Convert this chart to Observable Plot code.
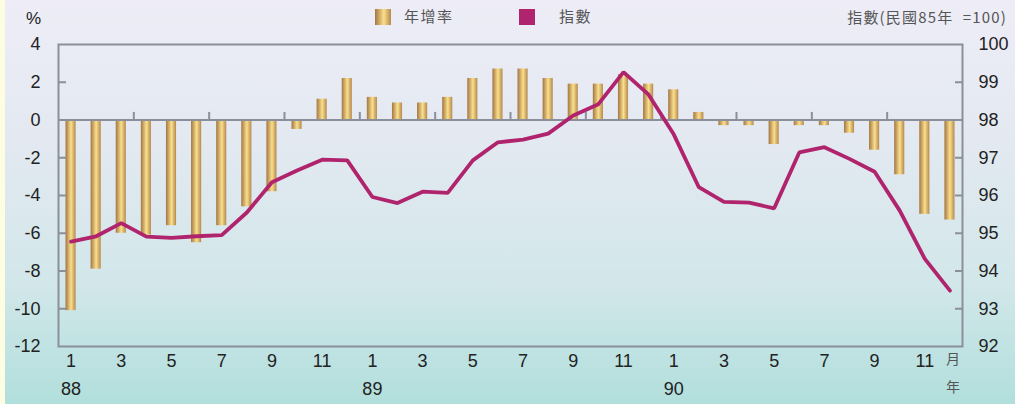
<!DOCTYPE html>
<html>
<head>
<meta charset="utf-8">
<script src="https://cdn.jsdelivr.net/npm/d3@7"></script>
<script src="https://cdn.jsdelivr.net/npm/@observablehq/plot@0.6"></script>
<style>
  html, body { margin: 0; padding: 0; }
  body { width: 1015px; height: 404px; overflow: hidden; }
  #wrap {
    position: relative; width: 1015px; height: 404px;
    background: linear-gradient(to bottom, #eeedf7 0%, #e3e9f1 35%, #d2e7ea 70%, #b1dfdc 100%);
    font-family: "Liberation Sans", Arial, sans-serif;
  }
  #strip { position: absolute; left: 0; top: 0; width: 5px; height: 404px; background: #fdfde2; }
  #chart { position: absolute; left: 0; top: 0; }
  .lbl { position: absolute; white-space: pre; line-height: 1; }
  .cjk { font-family: "Noto Sans CJK TC", "Noto Sans CJK SC", sans-serif; color: #555; font-size: 15px; letter-spacing: 1.5px; }
  .sw { position: absolute; width: 16px; height: 16px; }
</style>
</head>
<body>
<div id="wrap">
  <div id="strip"></div>
  <div id="chart"></div>
  <div class="lbl" style="left:26px; top:10px; font-size:17px; color:#222;">%</div>
  <div class="sw" style="left:375px; top:9px; background: linear-gradient(to right, #a47543, #f9e08b 55%, #b6874f);"></div>
  <div class="lbl cjk" id="leg1" style="left:404px; top:8px;"></div>
  <div class="sw" style="left:519px; top:9px; background:#b0246e;"></div>
  <div class="lbl cjk" id="leg2" style="left:559px; top:8px;"></div>
  <div class="lbl cjk" id="rtitle" style="right:8px; top:9px; letter-spacing:1.2px;"></div>
</div>
<script>
// ---- data ----
const years = ["88", "89", "90"];
const monthTicks = [1, 3, 5, 7, 9, 11];
const seriesNames = ["年增率", "指數"];
const rightTitle = "指數(民國85年  =100)";
const unitMonth = "月";
const unitYear = "年";
// 年增率 (%), 88/1 .. 90/12
const rate = [
  -10.1, -7.9, -6.0, -6.1, -5.6, -6.5, -5.6, -4.6, -3.8, -0.5, 1.1, 2.2,
  1.2, 0.9, 0.9, 1.2, 2.2, 2.7, 2.7, 2.2, 1.9, 1.9, 2.4, 1.9,
  1.6, 0.4, -0.3, -0.3, -1.3, -0.3, -0.3, -0.7, -1.6, -2.9, -5.0, -5.3
];
// 指數 (民國85年=100)
const index = [
  94.78, 94.92, 95.27, 94.91, 94.88, 94.92, 94.95, 95.55, 96.35, 96.66, 96.95, 96.93,
  95.96, 95.80, 96.10, 96.07, 96.93, 97.41, 97.48, 97.64, 98.12, 98.42, 99.27, 98.67,
  97.62, 96.22, 95.83, 95.81, 95.66, 97.14, 97.28, 96.97, 96.63, 95.60, 94.32, 93.48
];
const leftTicks = [4, 2, 0, -2, -4, -6, -8, -10, -12];
const rightTicks = [100, 99, 98, 97, 96, 95, 94, 93, 92];

// ---- derived ----
const rows = rate.map((r, k) => ({i: k + 1, rate: r, index: index[k]}));
const toLeft = v => (v - 92) * 2 - 12;      // right scale 92..100 -> left -12..4
const fromLeft = y => (y + 12) / 2 + 92;
const n = rows.length;
const monthTickIdx = d3.range(n).map(k => k + 1).filter(i => monthTicks.includes((i - 1) % 12 + 1));
const yearTickIdx = years.map((y, k) => k * 12 + 1);
const quarterBounds = d3.range(3, n, 3).map(i => i + 0.5);

document.getElementById("leg1").textContent = seriesNames[0];
document.getElementById("leg2").textContent = seriesNames[1];
document.getElementById("rtitle").textContent = rightTitle;

const gray = "#8b8f9b";
const cjkFont = "'Noto Sans CJK TC', sans-serif";
const chart = Plot.plot({
  width: 1015, height: 404,
  marginLeft: 58, marginRight: 53, marginTop: 44, marginBottom: 58,
  style: {background: "transparent", fontFamily: "'Liberation Sans', Arial, sans-serif", fontSize: "18px", color: "#222", overflow: "visible"},
  x: {domain: [0.5, n + 0.5]},
  y: {domain: [-12, 4]},
  marks: [
    Plot.rectY(rows, {x1: d => d.i - 0.5, x2: d => d.i + 0.5, y1: 0, y2: "rate", insetLeft: 7.5, insetRight: 7.5, fill: "url(#gold)"}),
    Plot.ruleX(quarterBounds, {x: d => d, y1: 0, y2: 0.4, stroke: gray, strokeWidth: 2}),
    Plot.ruleY([0], {stroke: gray, strokeWidth: 2}),
    Plot.frame({stroke: gray, strokeWidth: 2}),
    Plot.line(rows, {x: "i", y: d => toLeft(d.index), stroke: "#b0246e", strokeWidth: 3.8, strokeLinejoin: "miter"}),
    // left axis
    Plot.axisY({label: null, ticks: leftTicks.slice(1, -1).filter(v => v !== 0), tickSize: -8, tickFormat: () => "", stroke: gray, strokeWidth: 2}),
    Plot.axisY({label: null, ticks: leftTicks, tickSize: 0, tickPadding: 18, tickFormat: d => String(d), fill: "#222"}),
    // right axis
    Plot.axisY({label: null, anchor: "right", ticks: rightTicks.slice(1, -1).filter(v => v !== 98).map(toLeft), tickSize: -8, tickFormat: () => "", stroke: gray, strokeWidth: 2}),
    Plot.axisY({label: null, anchor: "right", ticks: rightTicks.map(toLeft), tickSize: 0, tickPadding: 16, tickFormat: y => String(Math.round(fromLeft(y))), fill: "#222"}),
    // bottom axis
    Plot.axisX({label: null, ticks: monthTickIdx, tickSize: 0, tickPadding: 8, tickFormat: i => String((i - 1) % 12 + 1), fill: "#222"}),
    Plot.axisX({label: null, ticks: yearTickIdx, tickSize: 0, tickPadding: 36, tickFormat: i => years[(i - 1) / 12], fill: "#222"}),
    Plot.axisX({label: null, ticks: [n], tickSize: 0, tickPadding: 8, tickFormat: () => unitMonth, fill: "#555", fontSize: 14, fontFamily: cjkFont, dx: 3}),
    Plot.axisX({label: null, ticks: [n], tickSize: 0, tickPadding: 36, tickFormat: () => unitYear, fill: "#555", fontSize: 14, fontFamily: cjkFont, dx: 3})
  ]
});

// gradient definition for bars
const ns = "http://www.w3.org/2000/svg";
const defs = document.createElementNS(ns, "defs");
const grad = document.createElementNS(ns, "linearGradient");
grad.setAttribute("id", "gold");
grad.setAttribute("x1", "0"); grad.setAttribute("x2", "1"); grad.setAttribute("y1", "0"); grad.setAttribute("y2", "0");
[["0%", "#a47543"], ["55%", "#f9e08b"], ["100%", "#b6874f"]].forEach(([o, c]) => {
  const s = document.createElementNS(ns, "stop");
  s.setAttribute("offset", o); s.setAttribute("stop-color", c);
  grad.appendChild(s);
});
defs.appendChild(grad);
chart.insertBefore(defs, chart.firstChild);
document.getElementById("chart").appendChild(chart);
</script>
</body>
</html>
